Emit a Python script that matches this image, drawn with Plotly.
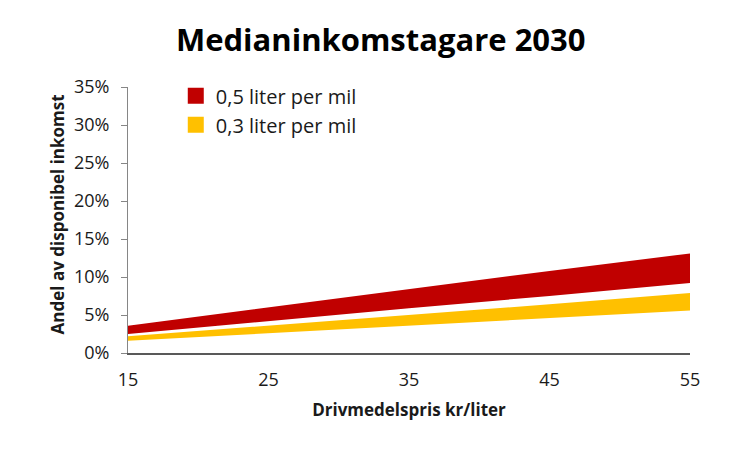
import plotly.graph_objects as go

# fuel price (kr/liter)
price = [15, 25, 35, 45, 55]

# share of disposable income, band per consumption level
red_high = [0.036, 0.060, 0.084, 0.108, 0.131]
red_low = [0.025, 0.042, 0.059, 0.075, 0.092]
yellow_high = [0.022, 0.036, 0.050, 0.064, 0.079]
yellow_low = [0.016, 0.026, 0.036, 0.046, 0.056]

names = ["0,5 liter per mil", "0,3 liter per mil"]
colors = ["#C00000", "#FFC000"]

FONT = "Open Sans"

fig = go.Figure()

# bands: invisible lower edge, upper edge filled down to it
for low, high, col in [(red_low, red_high, colors[0]), (yellow_low, yellow_high, colors[1])]:
    fig.add_trace(go.Scatter(x=price, y=low, mode="lines", line=dict(width=0),
                             showlegend=False, hoverinfo="skip"))
    fig.add_trace(go.Scatter(x=price, y=high, mode="lines", line=dict(width=0),
                             fill="tonexty", fillcolor=col, showlegend=False))

# legend squares
for name, col in zip(names, colors):
    fig.add_trace(go.Scatter(x=[None], y=[None], mode="markers", name=name,
                             marker=dict(symbol="square", size=16, color=col)))

# page body adds ~8px offset, margins compensate
fig.update_layout(
    width=750, height=450,
    margin=dict(l=120, r=68, t=79, b=105),
    paper_bgcolor="white", plot_bgcolor="white",
    font=dict(family=FONT, color="#1a1a1a"),
    title=dict(text="<b>Medianinkomstagare 2030</b>", x=0.497, xanchor="center",
               y=0.929, yanchor="middle", font=dict(size=31, color="black")),
    legend=dict(x=0.085, y=1.04, xanchor="left", yanchor="top",
                font=dict(size=20), bgcolor="rgba(0,0,0,0)", tracegroupgap=0,
                traceorder="normal"),
    showlegend=True,
)

# y title placed by hand
fig.add_annotation(text="<b>Andel av disponibel inkomst</b>", textangle=-90,
                   xref="paper", yref="paper", x=-0.125, y=0.52,
                   xanchor="center", yanchor="middle", showarrow=False,
                   font=dict(size=17))

fig.update_xaxes(
    range=[15, 55], tickvals=price, ticks="", showgrid=False, zeroline=False,
    showline=True, linecolor="#595959", linewidth=2,
    tickfont=dict(size=18), ticklabelstandoff=9,
    title=dict(text="<b>Drivmedelspris kr/liter</b>", font=dict(size=17), standoff=15),
)
fig.update_yaxes(
    range=[0, 0.35], dtick=0.05, tickformat=".0%", showgrid=False, zeroline=False,
    showline=True, linecolor="#868686", linewidth=1,
    ticks="outside", ticklen=6, tickcolor="#868686",
    tickfont=dict(size=18), ticklabelstandoff=8,
)

fig.write_html("out.html")
